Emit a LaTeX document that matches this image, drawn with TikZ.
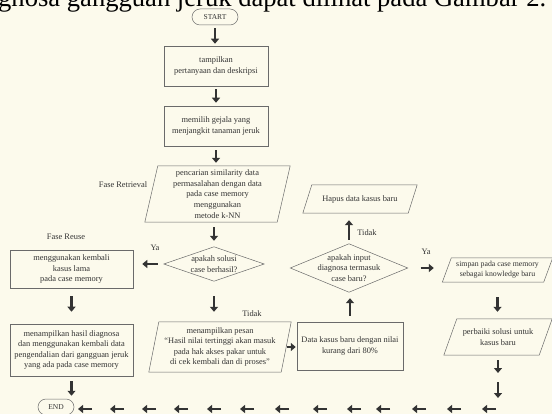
\documentclass[tikz,border=0pt]{standalone}
\usepackage{graphicx}
\usepackage{fontspec}
\setmainfont{Liberation Serif}
\usetikzlibrary{arrows.meta}
\definecolor{ink}{HTML}{333333}
\definecolor{edge}{HTML}{6A6A6A}
\definecolor{bg}{HTML}{FCFAEC}
\begin{document}
\begin{tikzpicture}[x=1pt,y=-1pt,
  txt/.style={font=\fontsize{8.4}{10.6}\selectfont, text=ink, align=center, inner sep=0pt},
  boxr/.style={txt, draw=edge, line width=0.5pt},
  outline/.style={draw=edge, line width=0.5pt},
  barrow/.style={draw=ink, line width=2.6pt, -{Triangle[length=5pt,width=8pt]}},
  lbl/.style={font=\fontsize{8.4}{10}\selectfont, text=ink, inner sep=0pt}]
\fill[bg] (0,0) rectangle (552,414);
\useasboundingbox (0,0) rectangle (552,414);
\clip (0,0) rectangle (552,414);

% cropped caption line at the top
\node[anchor=base west, inner sep=0pt, text=black] (cap) at (-2,7)
  {\resizebox{548pt}{!}{\fontsize{20}{24}\selectfont gnosa gangguan jeruk dapat dilihat pada Gambar 2.}};

% main column
\node[txt, draw=edge, line width=0.5pt, rounded corners=8pt, minimum width=46pt, minimum height=16pt,
      font=\fontsize{7.5}{8}\selectfont] (start) at (215,17) {START};
\node[boxr, minimum width=104pt, minimum height=40pt] (b1) at (216,66) {tampilkan\\pertanyaan dan deskripsi};
\node[boxr, minimum width=104pt, minimum height=40pt] (b2) at (216,126) {memilih gejala yang\\menjangkit tanaman jeruk};

\node[txt, minimum width=132pt, minimum height=56pt] (p1) at (217.5,194)
  {pencarian similarity data\\permasalahan dengan data\\pada case memory\\menggunakan\\metode k-NN};
\draw[outline] ([xshift=6.5pt]p1.north west) -- ([xshift=6.5pt]p1.north east)
  -- ([xshift=-6.5pt]p1.south east) -- ([xshift=-6.5pt]p1.south west) -- cycle;
\node[lbl] (fr) at (123,185) {Fase Retrieval};

\node[txt, minimum width=100pt, minimum height=34pt] (d1) at (214,264) {apakah solusi\\case berhasil?};
\draw[outline] (d1.west) -- (d1.north) -- (d1.east) -- (d1.south) -- cycle;
\node[lbl] (ya1) at (155,248) {Ya};

\node[boxr, minimum width=123pt, minimum height=38pt] (reuse) at (71.5,269) {menggunakan kembali\\kasus lama\\pada case memory};
\node[lbl] (fre) at (66,237) {Fase Reuse};
\node[boxr, minimum width=123pt, minimum height=52pt] (hasil) at (71.5,350)
  {menampilkan hasil diagnosa\\dan menggunakan kembali data\\pengendalian dari gangguan jeruk\\yang ada pada case memory};
\node[txt, draw=edge, line width=0.5pt, rounded corners=8pt, minimum width=36pt, minimum height=16pt,
      font=\fontsize{7.5}{8}\selectfont] (end) at (56,407) {END};

\node[lbl] (td1) at (252,314) {Tidak};
\node[txt, minimum width=132pt, minimum height=50pt] (p2) at (220,347)
  {menampilkan pesan\\“Hasil nilai tertinggi akan masuk\\pada hak akses pakar untuk\\di cek kembali dan di proses”};
\draw[outline] ([xshift=5pt]p2.north west) -- ([xshift=5pt]p2.north east)
  -- ([xshift=-5pt]p2.south east) -- ([xshift=-5pt]p2.south west) -- cycle;
\node[boxr, minimum width=106pt, minimum height=48pt] (data) at (350,346) {Data kasus baru dengan nilai\\kurang dari 80\%};

\node[txt, minimum width=117pt, minimum height=48pt] (d2) at (349,268) {apakah input\\diagnosa termasuk\\case baru?};
\draw[outline] (d2.west) -- (d2.north) -- (d2.east) -- (d2.south) -- cycle;
\node[lbl] (td2) at (367,233) {Tidak};
\node[txt, minimum width=105pt, minimum height=28pt] (hapus) at (360,199) {Hapus data kasus baru};
\draw[outline] ([xshift=4.5pt]hapus.north west) -- ([xshift=4.5pt]hapus.north east)
  -- ([xshift=-4.5pt]hapus.south east) -- ([xshift=-4.5pt]hapus.south west) -- cycle;

\node[lbl] (ya2) at (426,252) {Ya};
\node[txt, font=\fontsize{7.8}{9.8}\selectfont, minimum width=101pt, minimum height=24pt] (simpan) at (497.5,270)
  {simpan pada case memory\\sebagai knowledge baru};
\draw[outline] ([xshift=4.5pt]simpan.north west) -- ([xshift=4.5pt]simpan.north east)
  -- ([xshift=-4.5pt]simpan.south east) -- ([xshift=-4.5pt]simpan.south west) -- cycle;
\node[txt, minimum width=95pt, minimum height=36pt] (per) at (498,337) {perbaiki solusi untuk\\kasus baru};
\draw[outline] ([xshift=6.5pt]per.north west) -- ([xshift=6.5pt]per.north east)
  -- ([xshift=-6.5pt]per.south east) -- ([xshift=-6.5pt]per.south west) -- cycle;

% connectors
\draw[barrow, shorten <=3pt, shorten >=2pt] (start.south) -- (start.south |- b1.north);
\draw[barrow, shorten <=3pt, shorten >=3pt] (b1.south) -- (b1.south |- b2.north);
\draw[barrow, shorten <=4pt, shorten >=3pt] (b2.south) -- (b2.south |- p1.north);
\draw[barrow, shorten <=5pt, shorten >=6pt] (d1.north |- p1.south) -- (d1.north);
\draw[barrow, shorten <=6pt, shorten >=9pt] (d1.west) -- (d1.west -| reuse.east);
\draw[barrow, shorten <=8pt, shorten >=12pt] (reuse.south) -- (reuse.south |- hasil.north);
\draw[barrow, shorten <=5pt, shorten >=3pt] (hasil.south) -- (hasil.south |- end.north);
\draw[barrow, shorten <=15pt, shorten >=10pt] (d1.south) -- (d1.south |- p2.north);
\draw[barrow, shorten <=1pt, shorten >=1pt] (p2.east) -- (p2.east -| data.west);
\draw[barrow, shorten <=6pt, shorten >=6pt] (data.north) -- (data.north |- d2.south);
\draw[barrow, shorten <=4pt, shorten >=7pt] (d2.north) -- (d2.north |- hapus.south);
\draw[barrow, shorten <=13pt, shorten >=13pt] (d2.east) -- (d2.east -| simpan.west);
\draw[barrow, shorten <=15pt, shorten >=7pt] (simpan.south) -- (simpan.south |- per.north);
\coordinate (r1) at (498,380);
\coordinate (r2) at (498,409);
\draw[barrow, shorten <=5pt, shorten >=7pt] (per.south) -- (r1);
\draw[barrow, shorten <=2pt, shorten >=11pt] (r1) -- (r2);
\foreach \cx [count=\i] in {489,454,419,383,354,320,282,247,214,181,149,117,85} {
  \coordinate (h\i) at (\cx+7,409);
  \coordinate (t\i) at (\cx-7,409);
  \draw[barrow] (h\i) -- (t\i);
}
\end{tikzpicture}
\end{document}
